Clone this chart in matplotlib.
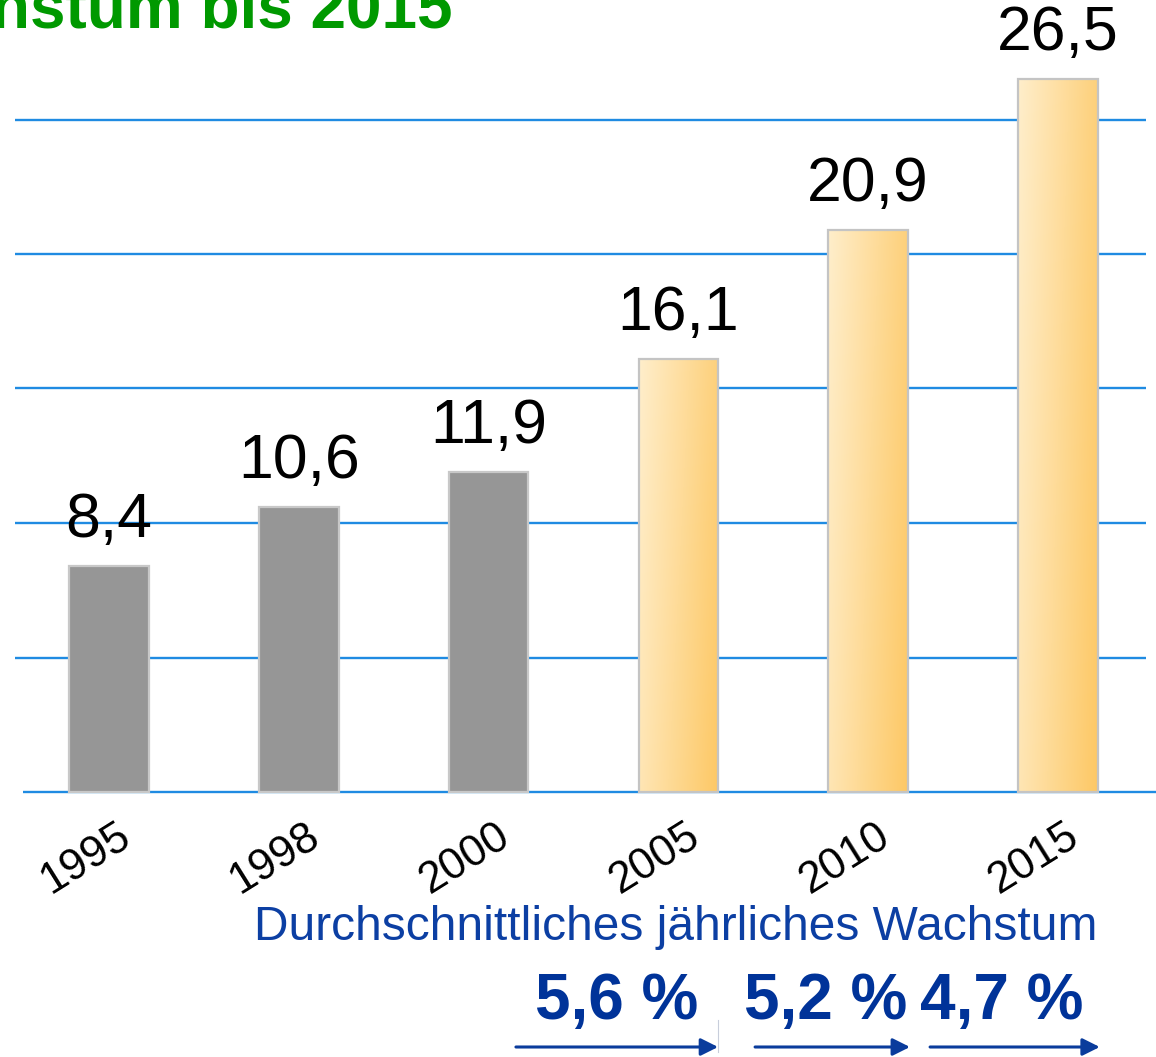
import numpy as np
import matplotlib
matplotlib.use("Agg")
import matplotlib.pyplot as plt
from matplotlib.colors import to_rgb

# ---- data ----
years = ["1995", "1998", "2000", "2005", "2010", "2015"]
values = [8.4, 10.6, 11.9, 16.1, 20.9, 26.5]
value_labels = ["8,4", "10,6", "11,9", "16,1", "20,9", "26,5"]
is_forecast = [False, False, False, True, True, True]
grid_values = [5, 10, 15, 20, 25]
growth_periods = [(2, 3), (3, 4), (4, 5)]
growth_labels = ["5,6 %", "5,2 %", "4,7 %"]
title_text = "Wachstum bis 2015"
subtitle_text = "Durchschnittliches jährliches Wachstum"

# ---- layout (pixel mapping) ----
W, H = 1156, 1057
X0, DX = 109.0, 189.8
Y0, SY = 792.0, 26.9
arrow_start_off = [0.144, 0.404, 0.326]
arrow_end_off = [0.209, 0.22, 0.22]
label_off = [0.676, 0.778, 0.705]

def px_x(px):
    return (px - X0) / DX

def px_y(py):
    return (Y0 - py) / SY

plt.rcParams['font.family'] = ['Liberation Sans', 'DejaVu Sans']
fig = plt.figure(figsize=(W / 100, H / 100), dpi=100)
ax = fig.add_axes([0, 0, 1, 1])
ax.set_xlim(px_x(0), px_x(W))
ax.set_ylim(px_y(H), px_y(0))
ax.axis('off')

grid_col = '#1f8be2'
ax.hlines(grid_values, px_x(15), px_x(1146), color=grid_col, lw=1.7, zorder=1)
ax.hlines([0], px_x(23), px_x(W), color=grid_col, lw=1.7, zorder=1)

bw = 0.42
x = np.arange(len(values))
c1 = np.array(to_rgb('#FFEECB'))
c2 = np.array(to_rgb('#FDC865'))
nu, nw = 60, 200
u = np.linspace(0, 1, nu)[None, :]
w = np.linspace(0, 1, nw)[:, None]
t = np.clip(0.78 * u + 0.22 * w, 0, 1)
grad = c1[None, None, :] * (1 - t[..., None]) + c2[None, None, :] * t[..., None]

for xi, v, fc in zip(x, values, is_forecast):
    if fc:
        bar = ax.bar(xi, v, width=bw, color='none', edgecolor='#c4c4c4', lw=1.6, zorder=3)[0]
        im = ax.imshow(grad, extent=(xi - bw / 2, xi + bw / 2, 0, v), origin='upper',
                       aspect='auto', zorder=2, interpolation='bilinear')
        im.set_clip_path(bar)
    else:
        ax.bar(xi, v, width=bw, color='#969696', edgecolor='#c8c8c8', lw=1.6, zorder=2)

ax.set_xlim(px_x(0), px_x(W))
ax.set_ylim(px_y(H), px_y(0))

# value labels
for xi, v, lab in zip(x, values, value_labels):
    ax.annotate(lab, (xi, v), xytext=(0, 21), textcoords='offset points',
                ha='center', va='baseline', fontsize=45, color='black', zorder=5)

# year labels
for xi, yr in zip(x, years):
    ax.annotate(yr, (xi, px_y(858)), xytext=(-17, 0), textcoords='offset points',
                ha='center', va='center', rotation=32, fontsize=31.5, color='black')

# title (clipped at the top-left edge)
ax.text(px_x(452), px_y(28), title_text, ha='right', va='baseline', fontsize=46,
        fontweight='bold', color='#009900')

blue = '#0a3c9c'
ax.text(px_x(676), px_y(927), subtitle_text, ha='center', va='center', fontsize=34.5,
        color='#0c3fa3')

for (s, e), lab, so, eo, lo in zip(growth_periods, growth_labels,
                                    arrow_start_off, arrow_end_off, label_off):
    xs, xe = s + so, e + eo
    ax.annotate('', xy=(xe, px_y(1047)), xytext=(xs, px_y(1047)),
                arrowprops=dict(arrowstyle='-|>', color=blue, lw=2.2, mutation_scale=26,
                                shrinkA=0, shrinkB=0))
    ax.text(s + lo, px_y(1019), lab, ha='center', va='baseline', fontsize=46,
            fontweight='bold', color='#003399')

# thin separator mark near the first arrow head
ax.plot([px_x(718), px_x(718)], [px_y(1020), px_y(1052)], color='#c8cedb', lw=0.8, zorder=0)

fig.savefig('out.png', dpi=100)
